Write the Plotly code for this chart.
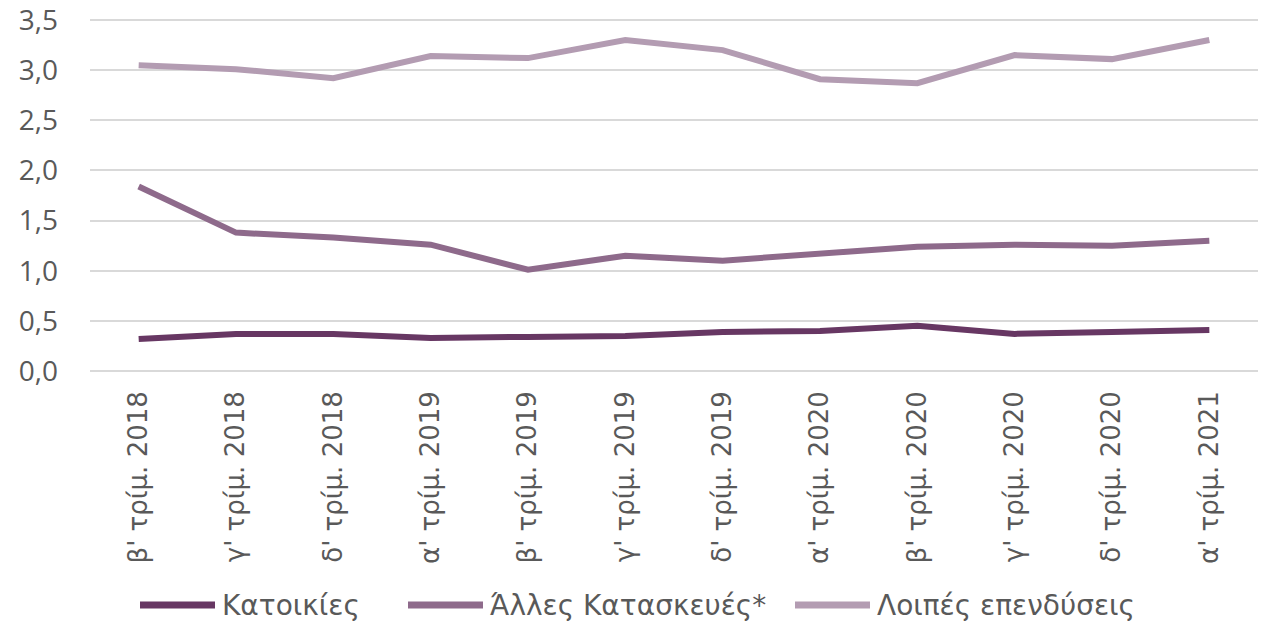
import plotly.graph_objects as go

# Quarterly categories (x axis)
quarters = [
    "β' τρίμ. 2018", "γ' τρίμ. 2018", "δ' τρίμ. 2018",
    "α' τρίμ. 2019", "β' τρίμ. 2019", "γ' τρίμ. 2019", "δ' τρίμ. 2019",
    "α' τρίμ. 2020", "β' τρίμ. 2020", "γ' τρίμ. 2020", "δ' τρίμ. 2020",
    "α' τρίμ. 2021",
]

# Series values
katoikies = [0.32, 0.37, 0.37, 0.33, 0.34, 0.35, 0.39, 0.40, 0.45, 0.37, 0.39, 0.41]
alles_kataskeves = [1.84, 1.38, 1.33, 1.26, 1.01, 1.15, 1.10, 1.17, 1.24, 1.26, 1.25, 1.30]
loipes_ependyseis = [3.05, 3.01, 2.92, 3.14, 3.12, 3.30, 3.20, 2.91, 2.87, 3.15, 3.11, 3.30]

series_names = ["Κατοικίες", "Άλλες Κατασκευές*", "Λοιπές επενδύσεις"]
series_values = [katoikies, alles_kataskeves, loipes_ependyseis]
colors = ["#673763", "#8e6a8b", "#b39cb2"]

W, H = 1263, 621
PLOT_L, PLOT_R = 90, 1258  # pixel edges of the plotting area
PLOT_T, PLOT_B = 18, 371


def px_to_paper(px):
    return (px - PLOT_L) / (PLOT_R - PLOT_L)


fig = go.Figure()
for name, vals, col in zip(series_names, series_values, colors):
    fig.add_trace(
        go.Scatter(
            x=quarters,
            y=vals,
            mode="lines",
            name=name,
            line=dict(color=col, width=6),
        )
    )

# Legend drawn by hand so the long line samples match the original
legend_line_starts = [140, 408, 795]
legend_y = (PLOT_B - 605) / (PLOT_B - PLOT_T)
shapes = []
annotations = []
for start, name, col in zip(legend_line_starts, series_names, colors):
    shapes.append(
        dict(
            type="line", xref="paper", yref="paper",
            x0=px_to_paper(start), x1=px_to_paper(start + 75),
            y0=legend_y, y1=legend_y,
            line=dict(color=col, width=7),
        )
    )
    annotations.append(
        dict(
            text=name, xref="paper", yref="paper",
            x=px_to_paper(start + 80), y=legend_y,
            xanchor="left", yanchor="middle", showarrow=False,
            font=dict(family="DejaVu Sans", size=28, color="#595959"),
        )
    )

fig.update_layout(
    width=W,
    height=H,
    paper_bgcolor="white",
    plot_bgcolor="white",
    margin=dict(l=PLOT_L, r=W - PLOT_R, t=PLOT_T, b=H - PLOT_B),
    font=dict(family="DejaVu Sans", color="#595959"),
    showlegend=False,
    shapes=shapes,
    annotations=annotations,
    separators=",.",
    xaxis=dict(
        range=[-0.5, 11.5],
        tickangle=-90,
        tickfont=dict(family="DejaVu Sans", size=26, color="#595959"),
        showgrid=False,
        showline=False,
        zeroline=False,
        ticks="",
        ticklabelstandoff=14,
        automargin=False,
    ),
    yaxis=dict(
        range=[0, 3.52],
        tickmode="linear",
        tick0=0,
        dtick=0.5,
        tickformat=".1f",
        tickfont=dict(family="Open Sans", size=28, color="#595959"),
        ticklabeloverflow="allow",
        gridcolor="#d9d9d9",
        gridwidth=2,
        zeroline=True,
        zerolinecolor="#d9d9d9",
        zerolinewidth=2,
        showline=False,
        ticks="",
        ticklabelstandoff=31,
        automargin=False,
    ),
)

fig.write_html(
    "out.html",
    config={"displayModeBar": False},
    post_script="document.body.style.margin='0px'; document.body.style.overflow='hidden';",
)
